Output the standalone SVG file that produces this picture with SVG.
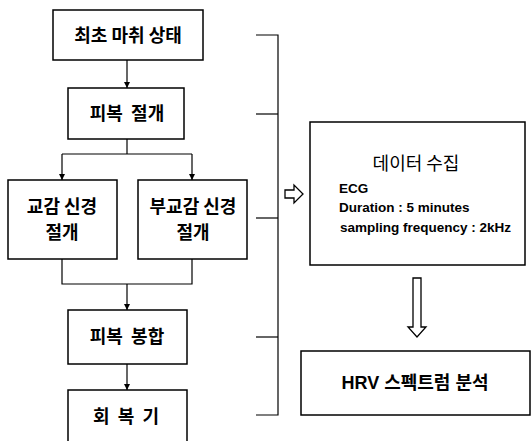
<svg xmlns="http://www.w3.org/2000/svg" width="531" height="441" viewBox="0 0 531 441">
<defs>
<marker id="ah" viewBox="0 0 6 6" refX="6" refY="3" markerWidth="6" markerHeight="6" markerUnits="userSpaceOnUse" orient="auto">
<path d="M0,0 L6,3 L0,6 Z" fill="#000"/>
</marker>
<style>
.box{fill:#fff;stroke:#000;stroke-width:1.5}
.ln{fill:none;stroke:#000;stroke-width:1.2}
.ko{font-family:"Noto Sans CJK KR","Liberation Sans",sans-serif;font-weight:bold;font-size:18px;fill:#000;text-anchor:middle}
.en{font-family:"Liberation Sans","Noto Sans CJK KR",sans-serif;font-weight:bold;font-size:13.5px;fill:#000}
.ho{fill:#fff;stroke:#000;stroke-width:1.3}
</style>
</defs>
<rect width="531" height="441" fill="#fff"/>
<g id="connectors">
<line class="ln" x1="127" y1="60" x2="127" y2="88" marker-end="url(#ah)"/>
<polyline class="ln" points="127,139 127,154"/>
<polyline class="ln" points="62,154 192,154"/>
<line class="ln" x1="62" y1="154" x2="62" y2="180" marker-end="url(#ah)"/>
<line class="ln" x1="192" y1="154" x2="192" y2="180" marker-end="url(#ah)"/>
<polyline class="ln" points="62,259 62,284 192,284 192,259"/>
<line class="ln" x1="127" y1="284" x2="127" y2="310" marker-end="url(#ah)"/>
<line class="ln" x1="127" y1="364" x2="127" y2="390" marker-end="url(#ah)"/>
<polyline class="ln" points="256,35 278,35 278,415 256,415"/>
<line class="ln" x1="256" y1="114" x2="278" y2="114"/>
<line class="ln" x1="256" y1="218" x2="278" y2="218"/>
<line class="ln" x1="256" y1="337" x2="278" y2="337"/>
<path class="ho" d="M285,190 L294,190 L294,185 L303,194 L294,203 L294,198 L285,198 Z"/>
<path class="ho" d="M413,278 L421,278 L421,327 L426,327 L417,337 L408,327 L413,327 Z"/>
</g>
<g id="n1"><rect class="box" x="53" y="10" width="150" height="50"/><text class="ko" x="128" y="42">최초 마취 상태</text></g>
<g id="n2"><rect class="box" x="68" y="88" width="116" height="51"/><text class="ko" x="127" y="120" xml:space="preserve">피복  절개</text></g>
<g id="n3"><rect class="box" x="8" y="180" width="109" height="79"/><text class="ko" x="62" y="213">교감 신경</text><text class="ko" x="62" y="239">절개</text></g>
<g id="n4"><rect class="box" x="138" y="180" width="109" height="79"/><text class="ko" x="193" y="213">부교감 신경</text><text class="ko" x="193" y="239">절개</text></g>
<g id="n5"><rect class="box" x="68" y="310" width="119" height="54"/><text class="ko" x="127" y="343" xml:space="preserve">피복  봉합</text></g>
<g id="n6"><rect class="box" x="68" y="390" width="119" height="60"/><text class="ko" x="126" y="423" xml:space="preserve">회  복  기</text></g>
<g id="n7"><rect class="box" x="310" y="122" width="215" height="143"/>
<text class="ko" x="416" y="170" style="font-weight:normal;font-size:18px">데이터 수집</text>
<text class="en" x="339" y="193">ECG</text>
<text class="en" x="339" y="212">Duration : 5 minutes</text>
<text class="en" x="340" y="232">sampling frequency : 2kHz</text>
</g>
<g id="n8"><rect class="box" x="301" y="351" width="229" height="64"/><text class="ko" x="415" y="389" style="font-family:'Liberation Sans','Noto Sans CJK KR',sans-serif;font-size:18px">HRV 스펙트럼 분석</text></g>
</svg>
